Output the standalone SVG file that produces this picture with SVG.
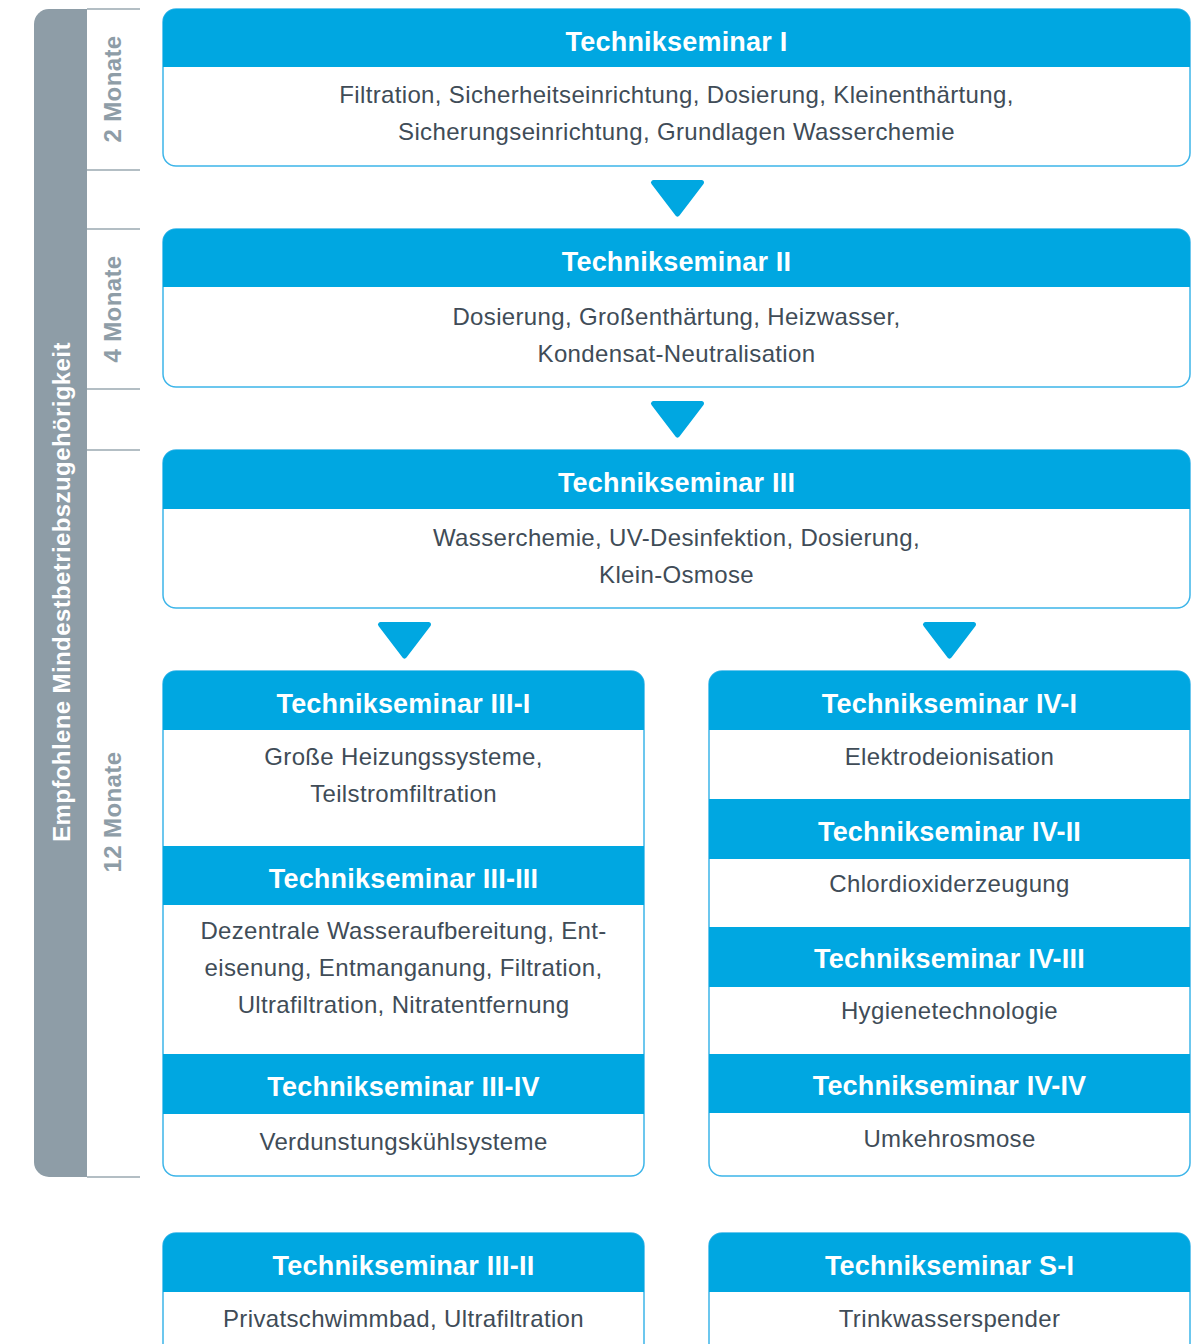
<svg xmlns="http://www.w3.org/2000/svg" width="1195" height="1344" viewBox="0 0 1195 1344">
<style>
.frame{fill:#fff;stroke:#3DB5E9;stroke-width:1.5}
.hd{fill:#00A7E1}
.ht{font-family:"Liberation Sans",Arial,sans-serif;font-weight:bold;font-size:27px;letter-spacing:0.2px;fill:#fff;text-anchor:middle}
.bt{font-family:"Liberation Sans",Arial,sans-serif;font-size:24px;letter-spacing:0.35px;fill:#404C57;text-anchor:middle}
.side{font-family:"Liberation Sans",Arial,sans-serif;font-weight:bold;font-size:24px;letter-spacing:0.4px;text-anchor:middle}
.tick{stroke:#9AA8B1;stroke-width:1.5}
.arr{fill:#00A7E1;stroke:#00A7E1;stroke-width:5;stroke-linejoin:round}
</style>
<g id="sidebar">
<path d="M87,9 H49 A15,15 0 0 0 34,24 V1162 A15,15 0 0 0 49,1177 H87 Z" fill="#8E9DA7"/>
<line class="tick" x1="87" y1="9" x2="140" y2="9"/>
<line class="tick" x1="87" y1="170" x2="140" y2="170"/>
<line class="tick" x1="87" y1="229" x2="140" y2="229"/>
<line class="tick" x1="87" y1="389" x2="140" y2="389"/>
<line class="tick" x1="87" y1="450" x2="140" y2="450"/>
<line class="tick" x1="87" y1="1177" x2="140" y2="1177"/>
<text class="side" fill="#fff" transform="translate(70,592) rotate(-90)">Empfohlene Mindestbetriebszugehörigkeit</text>
<text class="side" fill="#8E9DA7" transform="translate(121,89) rotate(-90)">2 Monate</text>
<text class="side" fill="#8E9DA7" transform="translate(121,309) rotate(-90)">4 Monate</text>
<text class="side" fill="#8E9DA7" transform="translate(121,812) rotate(-90)">12 Monate</text>
</g>
<g id="seminar-I">
<rect class="frame" x="163" y="9" width="1027" height="157" rx="13"/>
<path class="hd" d="M163,67 V22 A13,13 0 0 1 176,9 H1177 A13,13 0 0 1 1190,22 V67 Z"/>
<text class="ht" x="676.5" y="51">Technikseminar I</text>
<text class="bt" x="676.5" y="103">Filtration, Sicherheitseinrichtung, Dosierung, Kleinenthärtung,</text>
<text class="bt" x="676.5" y="140">Sicherungseinrichtung, Grundlagen Wasserchemie</text>
</g>
<g id="seminar-II">
<rect class="frame" x="163" y="229" width="1027" height="158" rx="13"/>
<path class="hd" d="M163,287 V242 A13,13 0 0 1 176,229 H1177 A13,13 0 0 1 1190,242 V287 Z"/>
<text class="ht" x="676.5" y="271">Technikseminar II</text>
<text class="bt" x="676.5" y="325">Dosierung, Großenthärtung, Heizwasser,</text>
<text class="bt" x="676.5" y="362">Kondensat-Neutralisation</text>
</g>
<g id="seminar-III">
<rect class="frame" x="163" y="450" width="1027" height="158" rx="13"/>
<path class="hd" d="M163,509 V463 A13,13 0 0 1 176,450 H1177 A13,13 0 0 1 1190,463 V509 Z"/>
<text class="ht" x="676.5" y="492">Technikseminar III</text>
<text class="bt" x="676.5" y="546">Wasserchemie, UV-Desinfektion, Dosierung,</text>
<text class="bt" x="676.5" y="583">Klein-Osmose</text>
</g>
<g id="column-III">
<rect class="frame" x="163" y="671" width="481" height="505" rx="13"/>
<g id="seminar-III-I">
<path class="hd" d="M163,730 V684 A13,13 0 0 1 176,671 H631 A13,13 0 0 1 644,684 V730 Z"/>
<text class="ht" x="403.5" y="713">Technikseminar III-I</text>
<text class="bt" x="403.5" y="765">Große Heizungssysteme,</text>
<text class="bt" x="403.5" y="802">Teilstromfiltration</text>
</g>
<g id="seminar-III-III">
<rect class="hd" x="163" y="846" width="481" height="59"/>
<text class="ht" x="403.5" y="888">Technikseminar III-III</text>
<text class="bt" x="403.5" y="939">Dezentrale Wasseraufbereitung, Ent-</text>
<text class="bt" x="403.5" y="976">eisenung, Entmanganung, Filtration,</text>
<text class="bt" x="403.5" y="1013">Ultrafiltration, Nitratentfernung</text>
</g>
<g id="seminar-III-IV">
<rect class="hd" x="163" y="1054" width="481" height="60"/>
<text class="ht" x="403.5" y="1096">Technikseminar III-IV</text>
<text class="bt" x="403.5" y="1150">Verdunstungskühlsysteme</text>
</g>
</g>
<g id="column-IV">
<rect class="frame" x="709" y="671" width="481" height="505" rx="13"/>
<g id="seminar-IV-I">
<path class="hd" d="M709,730 V684 A13,13 0 0 1 722,671 H1177 A13,13 0 0 1 1190,684 V730 Z"/>
<text class="ht" x="949.5" y="713">Technikseminar IV-I</text>
<text class="bt" x="949.5" y="765">Elektrodeionisation</text>
</g>
<g id="seminar-IV-II">
<rect class="hd" x="709" y="799" width="481" height="60"/>
<text class="ht" x="949.5" y="841">Technikseminar IV-II</text>
<text class="bt" x="949.5" y="892">Chlordioxiderzeugung</text>
</g>
<g id="seminar-IV-III">
<rect class="hd" x="709" y="927" width="481" height="60"/>
<text class="ht" x="949.5" y="968">Technikseminar IV-III</text>
<text class="bt" x="949.5" y="1019">Hygienetechnologie</text>
</g>
<g id="seminar-IV-IV">
<rect class="hd" x="709" y="1054" width="481" height="59"/>
<text class="ht" x="949.5" y="1095">Technikseminar IV-IV</text>
<text class="bt" x="949.5" y="1147">Umkehrosmose</text>
</g>
</g>
<g id="seminar-III-II">
<rect class="frame" x="163" y="1233" width="481" height="140" rx="13"/>
<path class="hd" d="M163,1292 V1246 A13,13 0 0 1 176,1233 H631 A13,13 0 0 1 644,1246 V1292 Z"/>
<text class="ht" x="403.5" y="1275">Technikseminar III-II</text>
<text class="bt" x="403.5" y="1327">Privatschwimmbad, Ultrafiltration</text>
</g>
<g id="seminar-S-I">
<rect class="frame" x="709" y="1233" width="481" height="140" rx="13"/>
<path class="hd" d="M709,1292 V1246 A13,13 0 0 1 722,1233 H1177 A13,13 0 0 1 1190,1246 V1292 Z"/>
<text class="ht" x="949.5" y="1275">Technikseminar S-I</text>
<text class="bt" x="949.5" y="1327">Trinkwasserspender</text>
</g>
<g id="connectors">
<polygon class="arr" points="653.5,182.5 701.5,182.5 677.5,214"/>
<polygon class="arr" points="653.5,403.5 701.5,403.5 677.5,435"/>
<polygon class="arr" points="380.5,624.5 428.5,624.5 404.5,656"/>
<polygon class="arr" points="925.5,624.5 973.5,624.5 949.5,656"/>
</g>
</svg>
